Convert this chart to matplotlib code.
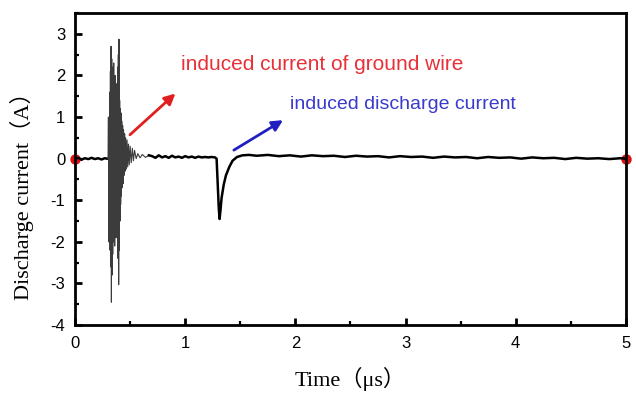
import matplotlib
matplotlib.use("Agg")
import matplotlib.pyplot as plt
from matplotlib.ticker import MultipleLocator

plt.rcParams["axes.unicode_minus"] = False

# Measured discharge current waveform (time in µs, current in A)
time_pre = [0.00, 0.03, 0.06, 0.09, 0.12, 0.15, 0.18, 0.21, 0.24, 0.27, 0.29]
curr_pre = [0.00, 0.02, -0.02, 0.01, -0.01, 0.02, -0.01, 0.01, -0.02, 0.01, 0.00]

# oscillating burst on the ground wire
time_burst = [0.300, 0.303, 0.306, 0.309, 0.312, 0.315, 0.318, 0.321, 0.324, 0.327,
              0.330, 0.333, 0.336, 0.339, 0.342, 0.345, 0.348, 0.351, 0.354, 0.357,
              0.360, 0.363, 0.366, 0.369, 0.372, 0.375, 0.378, 0.381, 0.384, 0.387,
              0.390, 0.393, 0.396, 0.399, 0.402, 0.405, 0.408, 0.411, 0.414, 0.417,
              0.420, 0.424, 0.428, 0.432, 0.436, 0.440, 0.445, 0.450, 0.455, 0.460,
              0.466, 0.472, 0.478, 0.485, 0.492, 0.500, 0.510, 0.520, 0.530, 0.540,
              0.555, 0.570, 0.590, 0.610, 0.640, 0.670]
curr_burst = [0.0, 1.0, -2.0, 0.9, -1.7, 1.6, -2.2, 2.1, -2.6, 2.7,
              -3.45, 2.4, -2.8, 2.2, -2.3, 1.9, -2.0, 2.3, -1.8, 1.7,
              -2.1, 2.0, -1.6, 1.5, -1.9, 1.8, -1.5, 1.6, -1.7, 2.2,
              -2.4, 2.5, -3.03, 2.87, -2.2, 1.4, -1.5, 1.2, -1.1, 1.1,
              -0.9, 0.9, -0.7, 0.8, -0.6, 0.7, -0.4, 0.6, -0.3, 0.5,
              -0.25, 0.45, -0.2, 0.35, -0.15, 0.3, -0.1, 0.25, -0.05, 0.2,
              0.0, 0.12, 0.02, 0.1, 0.03, 0.08]

# quiet interval before the induced discharge
time_mid = [0.70, 0.73, 0.76, 0.79, 0.82, 0.85, 0.88, 0.91, 0.94, 0.97,
            1.00, 1.03, 1.06, 1.09, 1.12, 1.15, 1.18, 1.21, 1.24, 1.27]
curr_mid = [0.06, 0.02, 0.08, 0.03, 0.06, 0.02, 0.07, 0.03, 0.05, 0.02,
            0.06, 0.03, 0.05, 0.02, 0.05, 0.03, 0.04, 0.03, 0.04, 0.03]

# induced discharge current pulse
time_dip = [1.285, 1.295, 1.305, 1.312, 1.32, 1.33, 1.35, 1.37, 1.40, 1.43, 1.47, 1.52, 1.58]
curr_dip = [0.00, -0.60, -1.20, -1.45, -1.25, -0.95, -0.62, -0.40, -0.20, -0.05, 0.04, 0.08, 0.09]

# tail of the record
time_tail = [1.65, 1.75, 1.85, 1.95, 2.05, 2.15, 2.25, 2.35, 2.45, 2.55,
             2.65, 2.75, 2.85, 2.95, 3.05, 3.15, 3.25, 3.35, 3.45, 3.55,
             3.65, 3.75, 3.85, 3.95, 4.05, 4.15, 4.25, 4.35, 4.45, 4.55,
             4.65, 4.75, 4.85, 4.95, 5.00]
curr_tail = [0.07, 0.09, 0.06, 0.08, 0.05, 0.08, 0.06, 0.07, 0.04, 0.07,
             0.05, 0.06, 0.03, 0.06, 0.04, 0.05, 0.02, 0.05, 0.03, 0.04,
             0.01, 0.04, 0.02, 0.03, 0.00, 0.03, 0.01, 0.02, -0.01, 0.02,
             0.00, 0.01, -0.01, 0.01, 0.00]

end_times = [0.0, 5.0]
end_values = [0.0, 0.0]

x_ticks = [0, 1, 2, 3, 4, 5]
y_ticks = [-4, -3, -2, -1, 0, 1, 2, 3]

serif = ["Liberation Serif", "Noto Sans CJK SC", "DejaVu Serif"]
sans = ["Liberation Sans", "DejaVu Sans"]

fig = plt.figure(figsize=(6.36, 3.95), dpi=100)
ax = fig.add_axes([0.118, 0.177, 0.866, 0.790])

# the fast burst reads as a dense grey mass, the slow parts as a thicker trace
ax.plot(time_pre + time_burst[:1], curr_pre + curr_burst[:1], color="black", lw=1.8, zorder=3)
ax.plot(time_burst, curr_burst, color="#3c3c3c", lw=0.8, zorder=3)
ax.plot(time_burst[-1:] + time_mid + time_dip + time_tail,
        curr_burst[-1:] + curr_mid + curr_dip + curr_tail,
        color="black", lw=1.8, zorder=3)
ax.plot(end_times, end_values, "o", color="#e01010", ms=6.5, clip_on=False, zorder=2)

ax.set_xlim(0, 5)
ax.set_ylim(-4, 3.5)
ax.set_xticks(x_ticks)
ax.set_yticks(y_ticks)
ax.xaxis.set_minor_locator(MultipleLocator(0.5))
ax.yaxis.set_minor_locator(MultipleLocator(0.5))
ax.tick_params(which="major", direction="in", length=5, width=2, labelsize=12)
ax.tick_params(axis="x", which="major", pad=8)
ax.tick_params(axis="y", which="major", pad=7)
ax.tick_params(which="minor", direction="in", length=3, width=1.6)
ax.tick_params(top=False, right=False, which="both")
for lab in ax.get_xticklabels() + ax.get_yticklabels():
    lab.set_family(sans)
for sp in ax.spines.values():
    sp.set_linewidth(2)

ax.set_xlabel("Time（μs）", family=serif, fontsize=16)
ax.set_ylabel("Discharge current（A）", family=serif, fontsize=16)
ax.xaxis.set_label_coords(0.5, -0.135)
ax.yaxis.set_label_coords(-0.074, 0.43)

ax.annotate("", xy=(0.93, 1.61), xytext=(0.48, 0.53),
            arrowprops=dict(arrowstyle="-|>", color="#e02020", lw=2, mutation_scale=16))
ax.text(0.96, 2.27, "induced current of ground wire", color="#e83038",
        family=sans, fontsize=15, va="center", ha="left")

ax.annotate("", xy=(1.91, 0.96), xytext=(1.42, 0.17),
            arrowprops=dict(arrowstyle="-|>", color="#2020c0", lw=2, mutation_scale=16))
ax.text(1.95, 1.30, "induced discharge current", color="#3a3acc",
        family=sans, fontsize=14, va="center", ha="left")

fig.savefig("out.png", dpi=100)
